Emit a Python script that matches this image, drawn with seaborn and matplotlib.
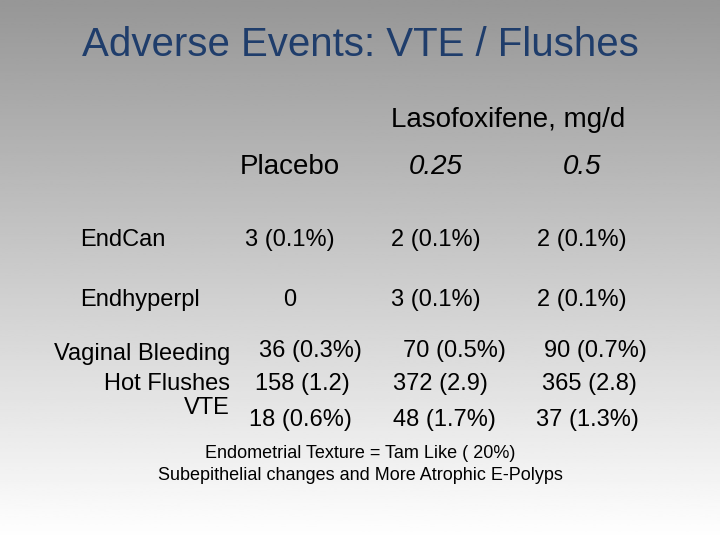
import numpy as np
import matplotlib
matplotlib.use('Agg')
import matplotlib.pyplot as plt
import seaborn as sns

sns.set_theme(style='white')
plt.rcParams['font.family'] = ['Liberation Sans', 'DejaVu Sans']
plt.rcParams['text.color'] = 'black'

# 数据
title = "Adverse Events: VTE / Flushes"
group_label = "Lasofoxifene, mg/d"
columns = ["Placebo", "0.25", "0.5"]
rows_top = ["EndCan", "Endhyperpl"]
vals_top = [["3 (0.1%)", "2 (0.1%)", "2 (0.1%)"],
            ["0", "3 (0.1%)", "2 (0.1%)"]]
rows_bottom = ["Vaginal Bleeding", "Hot Flushes", "VTE"]
vals_bottom = [["36 (0.3%)", "70 (0.5%)", "90 (0.7%)"],
               ["158 (1.2)", "372 (2.9)", "365 (2.8)"],
               ["18 (0.6%)", "48 (1.7%)", "37 (1.3%)"]]
notes = ["Endometrial Texture = Tam Like ( 20%)",
         "Subepithelial changes and More Atrophic E-Polyps"]

fig = plt.figure(figsize=(7.2, 5.4), dpi=100)
ax = fig.add_axes([0, 0, 1, 1])
ax.set_xlim(0, 720)
ax.set_ylim(540, 0)
ax.axis('off')

# 背景渐变
grad = np.linspace(0.59, 1.0, 256).reshape(-1, 1)
ax.imshow(grad, cmap='gray', vmin=0, vmax=1, extent=[0, 720, 540, 0], aspect='auto')

ax.text(360, 45, title, fontsize=29, color='#1f3d6b', ha='center', va='center')
ax.text(508, 120, group_label, fontsize=20, ha='center', va='center')

col_x_top = [290, 436, 582]
for x, c in zip(col_x_top, columns):
    style = 'normal' if c == "Placebo" else 'italic'
    ax.text(x, 167, c, fontsize=20, style=style, ha='center', va='center')

for y, lab, vals in zip([240, 300], rows_top, vals_top):
    ax.text(80, y, lab, fontsize=17, ha='left', va='center')
    for x, v in zip(col_x_top, vals):
        ax.text(x, y, v, fontsize=17, ha='center', va='center')

col_x_bottom = [[310, 454, 595], [302, 440, 589], [300, 444, 587]]
for y, lab, vals, xs in zip([354, 384, 414], rows_bottom, vals_bottom, col_x_bottom):
    ly = y - 6 if lab == "VTE" else y
    vy = y + 6 if lab == "VTE" else (y - 3 if lab == "Vaginal Bleeding" else y)
    ax.text(230, ly, lab, fontsize=17, ha='right', va='center')
    for x, v in zip(xs, vals):
        ax.text(x, vy, v, fontsize=17, ha='center', va='center')

for y, n in zip([453, 475], notes):
    ax.text(360, y, n, fontsize=13, ha='center', va='center')

fig.savefig('out.png', dpi=100)
